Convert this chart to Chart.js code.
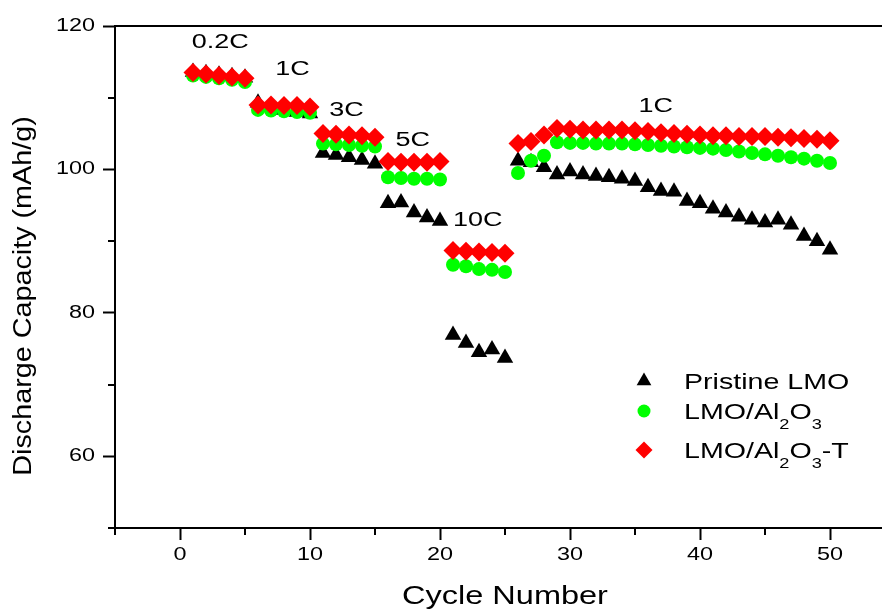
<!DOCTYPE html>
<html>
<head>
<meta charset="utf-8">
<script src="https://cdn.jsdelivr.net/npm/chart.js@4.4.1/dist/chart.umd.min.js"></script>
<style>
  html, body { margin: 0; padding: 0; overflow: hidden; background: #fff; }
  canvas { display: block; }
</style>
</head>
<body>
<canvas id="c" width="910" height="610"></canvas>
<script>
// ---------------- data ----------------
const cycles = [1, 2, 3, 4, 5, 6, 7, 8, 9, 10,
  11, 12, 13, 14, 15, 16, 17, 18, 19, 20,
  21, 22, 23, 24, 25, 26, 27, 28, 29, 30,
  31, 32, 33, 34, 35, 36, 37, 38, 39, 40,
  41, 42, 43, 44, 45, 46, 47, 48, 49, 50];

const pristineLMO = [113.6, 113.4, 113.2, 113.0, 112.8,
  109.3, 108.7, 108.3, 108.0, 107.8,
  102.3, 102.0, 101.7, 101.3, 100.8,
  95.3, 95.4, 94.0, 93.3, 92.8,
  76.9, 75.8, 74.5, 74.9, 73.7,
  101.2, 101.0, 100.3, 99.3, 99.7, 99.3, 99.1, 98.9, 98.7, 98.4,
  97.5, 97.0, 96.9, 95.6, 95.3, 94.5, 94.0, 93.4, 93.0, 92.6,
  93.0, 92.3, 90.7, 90.0, 88.8];

const lmoAl2O3 = [113.1, 112.9, 112.7, 112.5, 112.2,
  108.3, 108.2, 108.1, 108.0, 107.9,
  103.6, 103.5, 103.4, 103.3, 103.2,
  98.9, 98.8, 98.7, 98.7, 98.6,
  86.7, 86.5, 86.1, 86.0, 85.7,
  99.5, 101.2, 101.9, 103.8, 103.7, 103.7, 103.6, 103.6, 103.6, 103.5,
  103.4, 103.3, 103.2, 103.1, 103.0, 102.9, 102.7, 102.5, 102.3, 102.1,
  101.9, 101.7, 101.5, 101.2, 100.9];

const lmoAl2O3T = [113.5, 113.3, 113.1, 112.9, 112.7,
  109.0, 109.0, 108.9, 108.9, 108.7,
  105.0, 104.9, 104.8, 104.7, 104.5,
  101.1, 101.0, 101.0, 101.0, 101.1,
  88.7, 88.6, 88.5, 88.4, 88.3,
  103.6, 103.9, 104.8, 105.7, 105.6, 105.5, 105.5, 105.5, 105.5, 105.4,
  105.3, 105.1, 105.0, 104.9, 104.8, 104.7, 104.7, 104.6, 104.6, 104.6,
  104.5, 104.4, 104.3, 104.2, 104.0];

const seriesNames = ['Pristine LMO', 'LMO/Al2O3', 'LMO/Al2O3-T'];
const xTickLabels = [0, 10, 20, 30, 40, 50];
const yTickLabels = [60, 80, 100, 120];
const rateTexts = ['0.2C', '1C', '3C', '5C', '10C', '1C'];

// annotation anchors (text centres, in data units)
const rateAnchors = [
  { x: 3.1, y: 118.0 }, { x: 8.65, y: 114.2 }, { x: 12.8, y: 108.5 },
  { x: 17.9, y: 104.3 }, { x: 22.9, y: 93.1 }, { x: 36.6, y: 109.0 }
];

// ---------------- helpers ----------------
const FONT = '"Liberation Sans", Arial, Helvetica, sans-serif';
const toPts = arr => cycles.map((c, i) => ({ x: c, y: arr[i] }));

// the original figure uses horizontally wide text; stretch glyphs around their anchor
function installWideText(ctx) {
  if (ctx.__wide) return;
  ctx.__wide = true;
  ctx.__sx = 1.3;
  const orig = ctx.fillText;
  ctx.fillText = function (text, x, y, maxW) {
    this.save();
    this.translate(x, y);
    this.scale(this.__sx, 1);
    if (maxW === undefined) orig.call(this, text, 0, 0);
    else orig.call(this, text, 0, 0, maxW / this.__sx);
    this.restore();
  };
}

function marker(ctx, style, x, y, r, color) {
  ctx.save();
  ctx.fillStyle = color;
  ctx.beginPath();
  if (style === 'triangle') {
    for (let k = 0; k < 3; k++) {
      const a = -Math.PI / 2 + k * 2 * Math.PI / 3;
      const px = x + r * Math.cos(a), py = y + r * Math.sin(a);
      k === 0 ? ctx.moveTo(px, py) : ctx.lineTo(px, py);
    }
    ctx.closePath();
  } else if (style === 'circle') {
    ctx.arc(x, y, r, 0, Math.PI * 2);
  } else {
    ctx.moveTo(x, y - r); ctx.lineTo(x + r, y); ctx.lineTo(x, y + r); ctx.lineTo(x - r, y);
    ctx.closePath();
  }
  ctx.fill();
  ctx.restore();
}

function drawRich(ctx, parts, x, yBase) {
  let cx = x;
  for (const p of parts) {
    ctx.font = (p.sub ? '14px ' : '22px ') + FONT;
    ctx.fillText(p.t, cx, p.sub ? yBase + 10 : yBase);
    cx += ctx.measureText(p.t).width * ctx.__sx;
  }
}

const decorPlugin = {
  id: 'decor',
  beforeDraw(chart) {
    installWideText(chart.ctx);
    chart.ctx.__sx = 1.3;
  },
  beforeDatasetsDraw(chart) {
    const { ctx, chartArea: a, scales } = chart;
    ctx.save();
    ctx.strokeStyle = '#000';
    ctx.lineWidth = 2;
    ctx.strokeRect(a.left, a.top, a.right - a.left, a.bottom - a.top);
    // minor ticks
    ctx.beginPath();
    [50, 70, 90, 110].forEach(v => {
      const py = Math.round(scales.y.getPixelForValue(v));
      ctx.moveTo(a.left, py); ctx.lineTo(a.left - 7, py);
    });
    [-5, 5, 15, 25, 35, 45, 55].forEach(v => {
      const px = Math.round(scales.x.getPixelForValue(v));
      ctx.moveTo(px, a.bottom); ctx.lineTo(px, a.bottom + 7);
    });
    ctx.stroke();
    ctx.restore();
  },
  afterDraw(chart) {
    const { ctx, scales } = chart;
    ctx.save();
    ctx.fillStyle = '#000';
    // rate annotations
    ctx.__sx = 1.35;
    ctx.font = '20px ' + FONT;
    ctx.textAlign = 'center';
    ctx.textBaseline = 'alphabetic';
    rateTexts.forEach((t, i) => {
      const px = scales.x.getPixelForValue(rateAnchors[i].x);
      const py = scales.y.getPixelForValue(rateAnchors[i].y) + 7.2;
      ctx.fillText(t, px, py);
    });
    // y axis title
    ctx.save();
    ctx.__sx = 1.15;
    ctx.font = '25px ' + FONT;
    ctx.translate(31, 296);
    ctx.rotate(-Math.PI / 2);
    ctx.textAlign = 'center';
    ctx.fillText('Discharge Capacity (mAh/g)', 0, 0);
    ctx.restore();
    // legend
    ctx.__sx = 1.3;
    ctx.textAlign = 'left';
    const rows = [
      { style: 'triangle', color: '#000000', r: 8.5, cy: 381, parts: [{ t: 'Pristine LMO' }] },
      { style: 'circle', color: '#00ff00', r: 6.5, cy: 411, parts: [{ t: 'LMO/Al' }, { t: '2', sub: true }, { t: 'O' }, { t: '3', sub: true }] },
      { style: 'rectRot', color: '#ff0000', r: 8.5, cy: 450, parts: [{ t: 'LMO/Al' }, { t: '2', sub: true }, { t: 'O' }, { t: '3', sub: true }, { t: '-T' }] }
    ];
    rows.forEach(row => {
      marker(ctx, row.style, 644, row.cy, row.r, row.color);
      ctx.fillStyle = '#000';
      drawRich(ctx, row.parts, 684, row.cy + 8);
    });
    ctx.__sx = 1.3;
    ctx.restore();
  }
};

new Chart(document.getElementById('c'), {
  type: 'scatter',
  data: {
    datasets: [
      { label: seriesNames[2], data: toPts(lmoAl2O3T), pointStyle: 'rectRot', pointRadius: 9.5,
        backgroundColor: '#ff0000', borderColor: '#ff0000', borderWidth: 0, order: 1 },
      { label: seriesNames[1], data: toPts(lmoAl2O3), pointStyle: 'circle', pointRadius: 7,
        backgroundColor: '#00ff00', borderColor: '#00ff00', borderWidth: 0, order: 2 },
      { label: seriesNames[0], data: toPts(pristineLMO), pointStyle: 'triangle', pointRadius: 9.5,
        backgroundColor: '#000000', borderColor: '#000000', borderWidth: 0, order: 3 }
    ]
  },
  options: {
    responsive: false,
    animation: false,
    devicePixelRatio: 1,
    layout: { padding: { left: 0, top: 26, right: 15, bottom: 0 } },
    plugins: { legend: { display: false }, tooltip: { enabled: false } },
    scales: {
      x: {
        type: 'linear', min: -5, max: 55,
        afterFit: s => { s.height = 82; },
        border: { display: false },
        grid: {
          drawOnChartArea: false, drawTicks: true, tickLength: 12, tickWidth: 2,
          tickColor: c => (c.tick && xTickLabels.includes(c.tick.value)) ? '#000' : 'rgba(0,0,0,0)'
        },
        ticks: {
          stepSize: 5, autoSkip: false, maxRotation: 0, padding: 4,
          color: '#000', font: { size: 18, family: FONT },
          callback: v => xTickLabels.includes(v) ? String(v) : ''
        },
        title: {
          display: true, text: 'Cycle Number', color: '#000',
          font: { size: 25, family: FONT }, padding: { top: 0, bottom: -2 }
        }
      },
      y: {
        type: 'linear', min: 50, max: 120,
        afterFit: s => { s.width = 115; },
        border: { display: false },
        grid: {
          drawOnChartArea: false, drawTicks: true, tickLength: 12, tickWidth: 2,
          tickColor: c => (c.tick && yTickLabels.includes(c.tick.value)) ? '#000' : 'rgba(0,0,0,0)'
        },
        ticks: {
          stepSize: 10, autoSkip: false, padding: 8,
          color: '#000', font: { size: 18, family: FONT },
          callback: v => yTickLabels.includes(v) ? String(v) : ''
        }
      }
    }
  },
  plugins: [decorPlugin]
});
</script>
</body>
</html>
